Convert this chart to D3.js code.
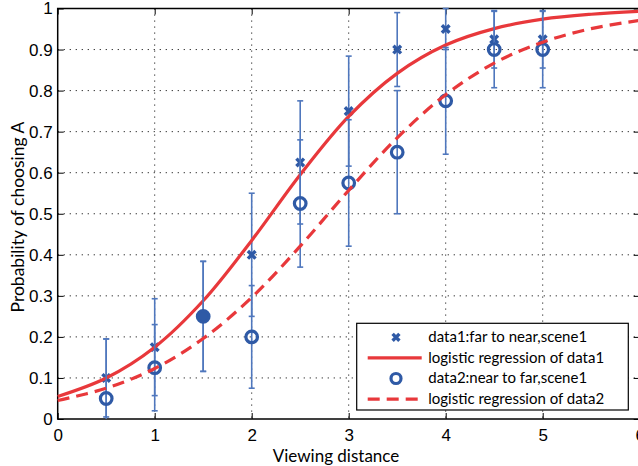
<!DOCTYPE html>
<html>
<head>
<meta charset="utf-8">
<script src="https://cdn.jsdelivr.net/npm/d3@7"></script>
<style>
  body { margin: 0; background: #fff; }
  svg { display: block; font-family: Lato, "Open Sans", sans-serif; }
  .grid line { stroke: #222; stroke-width: 1; stroke-dasharray: 1.2,4.8; }
</style>
</head>
<body>
<svg id="chart" width="638" height="466"></svg>
<script>
// viewing distances of the measurements
var distances = [0.5, 1, 1.5, 2, 2.5, 3, 3.5, 4, 4.5, 5];
// data1: far to near, scene1
var data1 = [0.1, 0.175, 0.25, 0.4, 0.625, 0.75, 0.9, 0.95, 0.925, 0.925];
var err1 = [0.095, 0.118, 0.134, 0.15, 0.15, 0.134, 0.09, 0.05, 0.07, 0.07];
// data2: near to far, scene1
var data2 = [0.05, 0.125, 0.25, 0.2, 0.525, 0.575, 0.65, 0.775, 0.9, 0.9];
var err2 = [0.145, 0.105, 0.134, 0.125, 0.155, 0.154, 0.15, 0.13, 0.093, 0.093];
// fitted curves
var curveX = [0, 0.5, 1, 1.5, 2, 2.5, 3, 3.5, 4, 4.5, 5, 5.5, 6];
var fit1 = [0.055, 0.1, 0.175, 0.288, 0.435, 0.595, 0.737, 0.842, 0.911, 0.951, 0.974, 0.986, 0.993];
var fit2 = [0.045, 0.075, 0.123, 0.196, 0.296, 0.421, 0.557, 0.685, 0.79, 0.867, 0.918, 0.951, 0.971];
var xTicks = [0, 1, 2, 3, 4, 5, 6];
var yTicks = [0, 0.1, 0.2, 0.3, 0.4, 0.5, 0.6, 0.7, 0.8, 0.9, 1];
var legendLabels = [
  "data1:far to near,scene1",
  "logistic regression of data1",
  "data2:near to far,scene1",
  "logistic regression of data2"
];

var margin = { top: 8.5, left: 57.7 };
var W = 582, H = 410.5;
var BLUE = "#2f5aa6", BAR = "#4f77bd", RED = "#e8383b";

var svg = d3.select( "#chart" );
var g = svg.append( "g" ).attr( "transform", "translate(" + margin.left + "," + margin.top + ")" );

var x = d3.scaleLinear().domain( [ 0, 6 ] ).range( [ 0, W ] );
var y = d3.scaleLinear().domain( [ 0, 1 ] ).range( [ H, 0 ] );

// dotted grid
var grid = g.append( "g" ).attr( "class", "grid" );
grid.selectAll( "line.v" ).data( xTicks.slice( 1, -1 ) ).enter().append( "line" )
  .attr( "x1", function( d ) { return x( d ); } ).attr( "x2", function( d ) { return x( d ); } )
  .attr( "y1", 0 ).attr( "y2", H );
grid.selectAll( "line.h" ).data( yTicks.slice( 1, -1 ) ).enter().append( "line" )
  .attr( "y1", function( d ) { return y( d ); } ).attr( "y2", function( d ) { return y( d ); } )
  .attr( "x1", 0 ).attr( "x2", W );

// axes, MATLAB style ticks pointing inward
function styleAxis( sel ) {
  sel.select( ".domain" ).remove();
  sel.selectAll( "line" ).attr( "stroke", "#000" ).attr( "stroke-width", 1 );
  sel.selectAll( "text" ).attr( "fill", "#000" ).style( "font-size", "17px" );
}
g.append( "g" ).attr( "transform", "translate(0," + H + ")" )
  .call( d3.axisBottom( x ).tickValues( xTicks ).tickFormat( d3.format( "d" ) ).tickSizeInner( -6 ).tickPadding( 10 ) )
  .call( styleAxis );
g.append( "g" )
  .call( d3.axisLeft( y ).tickValues( yTicks ).tickFormat( function( d ) { return d === 0 || d === 1 ? d : d.toFixed( 1 ); } ).tickSizeInner( -6 ).tickPadding( 5 ) )
  .call( styleAxis );
g.append( "g" ).call( d3.axisTop( x ).tickValues( xTicks ).tickFormat( "" ).tickSizeInner( -6 ) ).call( styleAxis );
g.append( "g" ).attr( "transform", "translate(" + W + ",0)" )
  .call( d3.axisRight( y ).tickValues( yTicks ).tickFormat( "" ).tickSizeInner( -6 ) ).call( styleAxis );
g.append( "rect" ).attr( "width", W ).attr( "height", H )
  .attr( "fill", "none" ).attr( "stroke", "#000" ).attr( "stroke-width", 1.5 );

var line = d3.line()
  .x( function( d ) { return x( d[0] ); } )
  .y( function( d ) { return y( d[1] ); } )
  .curve( d3.curveCatmullRom );

var plot = g.append( "g" );

function errorBars( vals, errs ) {
  var eb = plot.append( "g" ).attr( "stroke", BAR ).attr( "stroke-width", 1.6 );
  distances.forEach( function( d, i ) {
    var lo = Math.max( 0, vals[i] - errs[i] ), hi = Math.min( 1, vals[i] + errs[i] );
    eb.append( "line" ).attr( "x1", x( d ) ).attr( "x2", x( d ) ).attr( "y1", y( lo ) ).attr( "y2", y( hi ) );
    [ vals[i] - errs[i], vals[i] + errs[i] ].forEach( function( v ) {
      if ( v < 0 || v > 1.001 ) { return; }
      eb.append( "line" ).attr( "x1", x( d ) - 3 ).attr( "x2", x( d ) + 3 ).attr( "y1", y( v ) ).attr( "y2", y( v ) );
    } );
  } );
}

function crossMarks( sel, cx, cy, s ) {
  sel.append( "path" )
    .attr( "d", "M" + ( cx - s ) + "," + ( cy - s ) + "L" + ( cx + s ) + "," + ( cy + s ) +
                "M" + ( cx - s ) + "," + ( cy + s ) + "L" + ( cx + s ) + "," + ( cy - s ) )
    .attr( "stroke", BLUE ).attr( "stroke-width", 3.4 ).attr( "fill", "none" );
}

// data1
errorBars( data1, err1 );
distances.forEach( function( d, i ) { crossMarks( plot, x( d ), y( data1[i] ), 3.8 ); } );
plot.append( "path" ).datum( d3.zip( curveX, fit1 ) ).attr( "d", line )
  .attr( "fill", "none" ).attr( "stroke", RED ).attr( "stroke-width", 3.2 );

// data2 (where both series coincide the marks merge into a solid disc)
errorBars( data2, err2 );
plot.selectAll( "circle.d2" ).data( distances ).enter().append( "circle" )
  .attr( "cx", function( d ) { return x( d ); } )
  .attr( "cy", function( d, i ) { return y( data2[i] ); } )
  .attr( "r", 5.8 )
  .attr( "fill", function( d, i ) { return data1[i] === data2[i] ? BLUE : "none"; } )
  .attr( "stroke", BLUE ).attr( "stroke-width", 3.2 );
plot.append( "path" ).datum( d3.zip( curveX, fit2 ) ).attr( "d", line )
  .attr( "fill", "none" ).attr( "stroke", RED ).attr( "stroke-width", 3.2 ).attr( "stroke-dasharray", "12,7" );

// labels
svg.append( "text" ).attr( "x", 336 ).attr( "y", 462 ).attr( "text-anchor", "middle" )
  .style( "font-size", "17px" ).text( "Viewing distance" );
svg.append( "text" ).attr( "transform", "translate(24,217) rotate(-90)" )
  .attr( "text-anchor", "middle" ).style( "font-size", "17.5px" ).text( "Probability of choosing A" );

// legend
var lg = svg.append( "g" ).attr( "transform", "translate(356.7,323.3)" );
lg.append( "rect" ).attr( "width", 271.6 ).attr( "height", 86.7 )
  .attr( "fill", "#fff" ).attr( "stroke", "#000" ).attr( "stroke-width", 1.2 );
legendLabels.forEach( function( t, i ) {
  var ry = 14 + i * 20.6;
  if ( i === 0 ) { crossMarks( lg, 39.3, ry, 3.4 ); }
  if ( i === 2 ) {
    lg.append( "circle" ).attr( "cx", 39.3 ).attr( "cy", ry ).attr( "r", 5 )
      .attr( "fill", "none" ).attr( "stroke", BLUE ).attr( "stroke-width", 3.2 );
  }
  if ( i === 1 || i === 3 ) {
    lg.append( "line" ).attr( "x1", 11 ).attr( "x2", 65 ).attr( "y1", ry ).attr( "y2", ry )
      .attr( "stroke", RED ).attr( "stroke-width", 3.2 ).attr( "stroke-dasharray", i === 3 ? "12,7" : null );
  }
  lg.append( "text" ).attr( "x", 71.6 ).attr( "y", ry + 5 ).style( "font-size", "15px" ).text( t );
} );
</script>
</body>
</html>
